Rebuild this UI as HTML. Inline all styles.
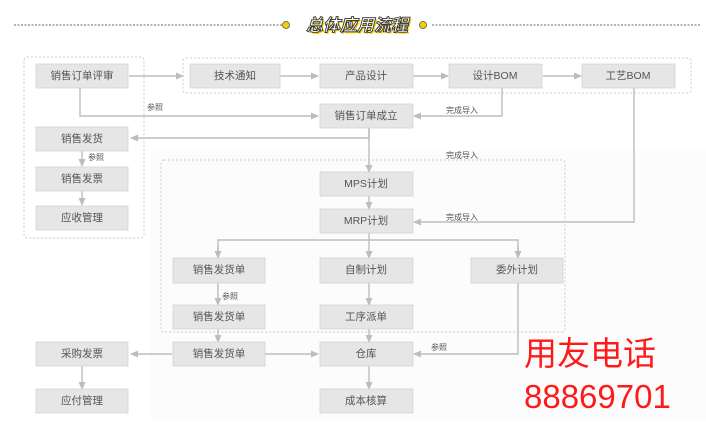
<!DOCTYPE html>
<html><head><meta charset="utf-8"><style>
html,body{margin:0;padding:0;background:#fff;}
svg{display:block;font-family:"Liberation Sans","Noto Sans CJK SC",sans-serif;}
.b{fill:#e6e6e6;stroke:#d4d4d4;stroke-width:0.8}
.t{font-size:10.5px;fill:#555;text-anchor:middle;dominant-baseline:central}
.s{font-size:8px;fill:#555}
.l{stroke:#bdbdbd;stroke-width:1.4;fill:none}
.g{stroke:#ccc;stroke-width:1;fill:none;stroke-dasharray:2 2}
</style></head><body>
<svg width="706" height="431" viewBox="0 0 706 431">
<defs><marker id="a" markerWidth="8" markerHeight="8" refX="7" refY="4" orient="auto" markerUnits="userSpaceOnUse"><path d="M0,0.5 L8,4 L0,7.5z" fill="#bdbdbd"/></marker></defs>
<rect width="706" height="431" fill="#fff"/>
<rect x="150" y="150" width="556" height="270" fill="#fcfcfc"/>
<line x1="14" y1="25" x2="282" y2="25" stroke="#666" stroke-dasharray="2 1.5"/>
<line x1="432" y1="25" x2="700" y2="25" stroke="#666" stroke-dasharray="2 1.5"/>
<circle cx="286" cy="25" r="3.5" fill="#f5d000" stroke="#555" stroke-width="0.8"/>
<circle cx="423" cy="25" r="3.5" fill="#f5d000" stroke="#555" stroke-width="0.8"/>
<text x="357" y="31" text-anchor="middle" font-size="17" font-weight="bold" font-style="italic" fill="#f5d000" transform="translate(1.5,1.5)">总体应用流程</text>
<text x="357" y="31" text-anchor="middle" font-size="17" font-weight="bold" font-style="italic" fill="#fff" stroke="#333" stroke-width="0.9">总体应用流程</text>
<rect class="g" x="24" y="57" width="120" height="181" rx="3"/>
<rect class="g" x="183" y="58" width="508" height="35" rx="3"/>
<rect class="g" x="161" y="160" width="404" height="172" rx="3"/>
<g class="l">
<line x1="129" y1="76" x2="183" y2="76" marker-end="url(#a)"/>
<line x1="280" y1="76" x2="318" y2="76" marker-end="url(#a)"/>
<line x1="413" y1="76" x2="448" y2="76" marker-end="url(#a)"/>
<line x1="543" y1="76" x2="581" y2="76" marker-end="url(#a)"/>
<polyline points="80,88 80,116 318,116" marker-end="url(#a)"/>
<polyline points="502,88 502,116 414,116" marker-end="url(#a)"/>
<polyline points="369,128 369,138 131,138" marker-end="url(#a)"/>
<line x1="369" y1="128" x2="369" y2="172" marker-end="url(#a)"/>
<polyline points="634,88 634,222 414,222" marker-end="url(#a)"/>
<line x1="82" y1="151" x2="82" y2="166" marker-end="url(#a)"/>
<line x1="82" y1="191" x2="82" y2="205" marker-end="url(#a)"/>
<line x1="369" y1="196" x2="369" y2="209" marker-end="url(#a)"/>
<line x1="369" y1="233" x2="369" y2="258" marker-end="url(#a)"/>
<polyline points="218,258 218,240 518,240 518,258"/>
<line x1="218" y1="245" x2="218" y2="258" marker-end="url(#a)"/>
<line x1="518" y1="245" x2="518" y2="258" marker-end="url(#a)"/>
<line x1="218" y1="283" x2="218" y2="305" marker-end="url(#a)"/>
<line x1="218" y1="329" x2="218" y2="342" marker-end="url(#a)"/>
<line x1="369" y1="283" x2="369" y2="305" marker-end="url(#a)"/>
<line x1="369" y1="329" x2="369" y2="342" marker-end="url(#a)"/>
<polyline points="518,283 518,354 414,354" marker-end="url(#a)"/>
<line x1="172" y1="354" x2="131" y2="354" marker-end="url(#a)"/>
<line x1="265" y1="354" x2="318" y2="354" marker-end="url(#a)"/>
<line x1="82" y1="366" x2="82" y2="389" marker-end="url(#a)"/>
<line x1="369" y1="366" x2="369" y2="389" marker-end="url(#a)"/>
</g>
<g>
<rect class="b" x="36" y="64" width="92" height="24"/><text class="t" x="82" y="76">销售订单评审</text>
<rect class="b" x="190" y="64" width="90" height="24"/><text class="t" x="235" y="76">技术通知</text>
<rect class="b" x="320" y="64" width="93" height="24"/><text class="t" x="366" y="76">产品设计</text>
<rect class="b" x="449" y="64" width="93" height="24"/><text class="t" x="495" y="76">设计BOM</text>
<rect class="b" x="582" y="64" width="93" height="24"/><text class="t" x="628" y="76">工艺BOM</text>
<rect class="b" x="320" y="104" width="93" height="24"/><text class="t" x="366" y="116">销售订单成立</text>
<rect class="b" x="36" y="127" width="92" height="24"/><text class="t" x="82" y="139">销售发货</text>
<rect class="b" x="36" y="167" width="92" height="24"/><text class="t" x="82" y="179">销售发票</text>
<rect class="b" x="36" y="206" width="92" height="24"/><text class="t" x="82" y="218">应收管理</text>
<rect class="b" x="320" y="172" width="93" height="24"/><text class="t" x="366" y="184">MPS计划</text>
<rect class="b" x="320" y="209" width="93" height="24"/><text class="t" x="366" y="221">MRP计划</text>
<rect class="b" x="173" y="258" width="92" height="25"/><text class="t" x="219" y="270">销售发货单</text>
<rect class="b" x="320" y="258" width="93" height="25"/><text class="t" x="366" y="270">自制计划</text>
<rect class="b" x="471" y="258" width="92" height="25"/><text class="t" x="517" y="270">委外计划</text>
<rect class="b" x="173" y="305" width="92" height="24"/><text class="t" x="219" y="317">销售发货单</text>
<rect class="b" x="320" y="305" width="93" height="24"/><text class="t" x="366" y="317">工序派单</text>
<rect class="b" x="36" y="342" width="92" height="24"/><text class="t" x="82" y="354">采购发票</text>
<rect class="b" x="173" y="342" width="92" height="24"/><text class="t" x="219" y="354">销售发货单</text>
<rect class="b" x="320" y="342" width="93" height="24"/><text class="t" x="366" y="354">仓库</text>
<rect class="b" x="36" y="389" width="92" height="24"/><text class="t" x="82" y="401">应付管理</text>
<rect class="b" x="320" y="389" width="93" height="24"/><text class="t" x="366" y="401">成本核算</text>
</g>
<text class="s" x="147" y="110">参照</text>
<text class="s" x="446" y="113">完成导入</text>
<text class="s" x="446" y="158">完成导入</text>
<text class="s" x="446" y="220">完成导入</text>
<text class="s" x="88" y="160">参照</text>
<text class="s" x="222" y="299">参照</text>
<text class="s" x="431" y="350">参照</text>
<text x="524" y="365" font-size="33" fill="#ff1a1a">用友电话</text>
<text x="524" y="408" font-size="33" fill="#ff1a1a">88869701</text>
</svg>
</body></html>
